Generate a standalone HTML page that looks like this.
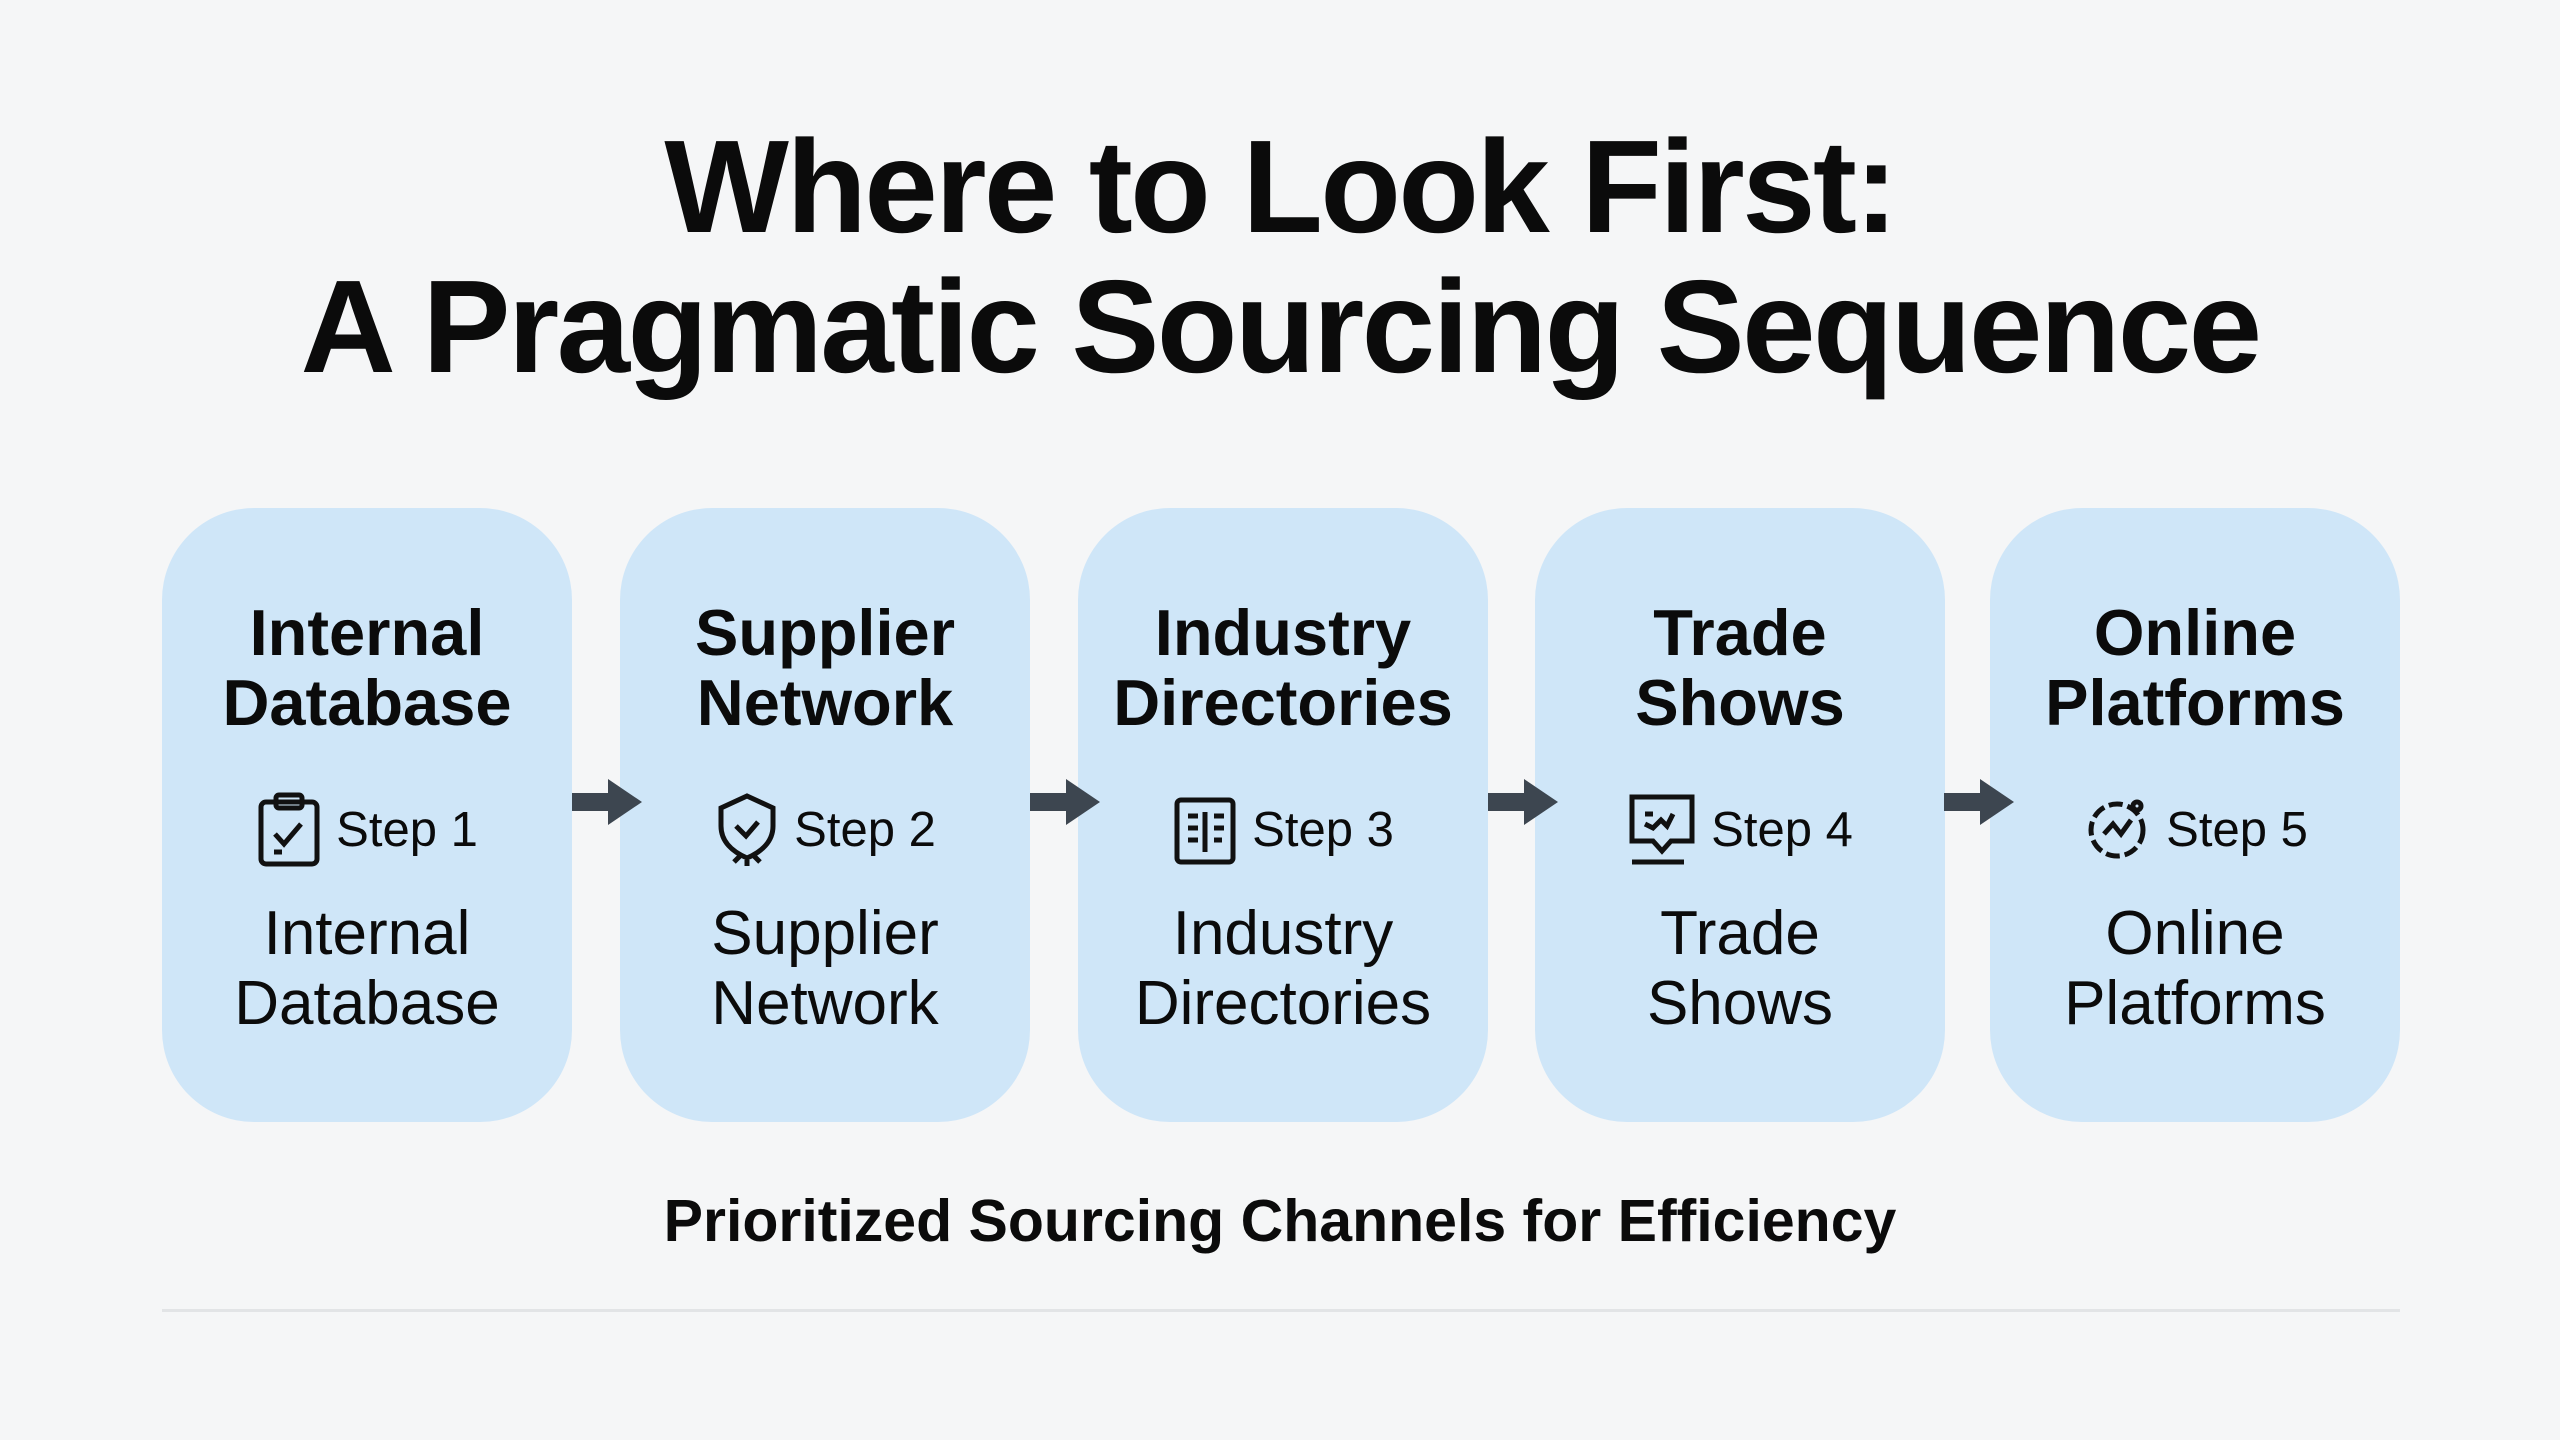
<!DOCTYPE html>
<html><head><meta charset="utf-8"><style>
*{margin:0;padding:0;box-sizing:border-box}
body{width:2560px;height:1440px;background:#f5f6f7;font-family:"Liberation Sans",sans-serif;position:relative;overflow:hidden;color:#0b0b0b}
.t{position:absolute;left:0;width:2560px;text-align:center;font-weight:bold;font-size:132px;letter-spacing:-2.6px;line-height:1}
.box{position:absolute;top:508px;width:410px;height:614px;background:#cfe6f8;border-radius:92px}
.h{position:absolute;top:90px;left:0;width:100%;text-align:center;font-weight:bold;font-size:65px;line-height:70px}
.s{position:absolute;top:284px;left:0;width:100%;text-align:center;font-size:49px;line-height:60px;display:flex;justify-content:center;align-items:center;gap:14px}
.b{position:absolute;top:391px;left:0;width:100%;text-align:center;font-size:62px;line-height:70px}
.ar{position:absolute;top:779px;width:70px;height:46px}
</style></head><body>
<div class="t" style="top:121px">Where to Look First:</div>
<div class="t" style="top:261px">A Pragmatic Sourcing Sequence</div>

<div class="box" style="left:162px"><div class="h">Internal<br>Database</div>
<div class="s"><svg width="66" height="76" viewBox="0 0 66 76" fill="none" stroke="#111" stroke-width="5"><rect x="5" y="10" width="56" height="62" rx="5"/><rect x="20" y="3" width="26" height="13" rx="3"/><path d="M19 42l9 10 17-20M18 60h8"/></svg><span>Step 1</span></div>
<div class="b">Internal<br>Database</div></div>

<div class="box" style="left:620px"><div class="h">Supplier<br>Network</div>
<div class="s"><svg width="66" height="76" viewBox="0 0 66 76" fill="none" stroke="#111" stroke-width="5"><path d="M33 4l26 12v18c0 16-12 26-26 32C19 60 7 50 7 34V16z"/><path d="M22 34l10 10 12-14M20 70l6-6M46 70l-6-6M33 74v-6"/></svg><span>Step 2</span></div>
<div class="b">Supplier<br>Network</div></div>

<div class="box" style="left:1078px"><div class="h">Industry<br>Directories</div>
<div class="s"><svg width="66" height="76" viewBox="0 0 66 76" fill="none" stroke="#111" stroke-width="5"><rect x="5" y="8" width="56" height="62" rx="4"/><path d="M16 24h10M16 36h10M16 48h10M33 20v40M42 24h10M42 36h10M42 48h8"/></svg><span>Step 3</span></div>
<div class="b">Industry<br>Directories</div></div>

<div class="box" style="left:1535px"><div class="h">Trade<br>Shows</div>
<div class="s"><svg width="70" height="76" viewBox="0 0 70 76" fill="none" stroke="#111" stroke-width="5"><path d="M5 5h60v44H44l-9 10-9-10H5z"/><path d="M18 22h8M18 32l8 4 8-8 6 6 6-12M5 70h52"/></svg><span>Step 4</span></div>
<div class="b">Trade<br>Shows</div></div>

<div class="box" style="left:1990px"><div class="h">Online<br>Platforms</div>
<div class="s"><svg width="70" height="76" viewBox="0 0 70 76" fill="none" stroke="#111" stroke-width="5"><circle cx="35" cy="38" r="26" stroke-dasharray="14 5"/><path d="M22 42l9-10 8 10 10-14"/><circle cx="55" cy="14" r="4"/></svg><span>Step 5</span></div>
<div class="b">Online<br>Platforms</div></div>

<svg class="ar" style="left:572px" viewBox="0 0 70 46"><path d="M0 14h36V0l34 23-34 23V32H0z" fill="#3d4650"/></svg>
<svg class="ar" style="left:1030px" viewBox="0 0 70 46"><path d="M0 14h36V0l34 23-34 23V32H0z" fill="#3d4650"/></svg>
<svg class="ar" style="left:1488px" viewBox="0 0 70 46"><path d="M0 14h36V0l34 23-34 23V32H0z" fill="#3d4650"/></svg>
<svg class="ar" style="left:1944px" viewBox="0 0 70 46"><path d="M0 14h36V0l34 23-34 23V32H0z" fill="#3d4650"/></svg>

<div style="position:absolute;top:1189px;left:0;width:2560px;text-align:center;font-weight:bold;font-size:59px;line-height:64px">Prioritized Sourcing Channels for Efficiency</div>
<div style="position:absolute;top:1309px;left:162px;width:2238px;height:3px;background:#e2e4e6"></div>
</body></html>
